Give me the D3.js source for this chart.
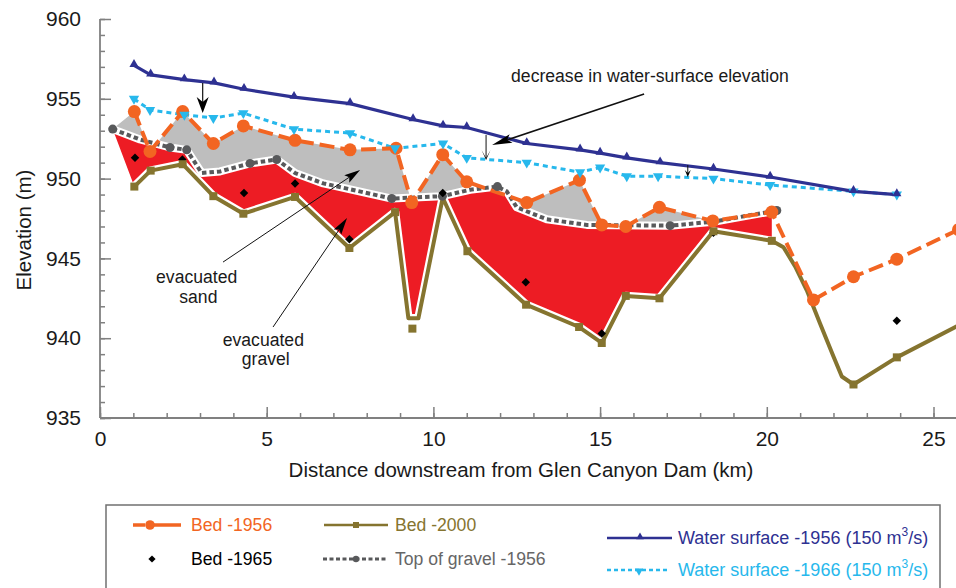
<!DOCTYPE html>
<html>
<head>
<meta charset="utf-8">
<script src="https://cdn.jsdelivr.net/npm/d3@7"></script>
<style>
  body { margin: 0; background: #fff; }
  svg { display: block; font-family: "Liberation Sans", Arial, Helvetica, sans-serif; }
</style>
</head>
<body>
<svg id="chart" width="956" height="588"></svg>
<script>
// ---- Longitudinal profile, Colorado River below Glen Canyon Dam ----
// distances in km downstream of the dam, elevations in m

// Water surface 1956 (150 m3/s)
const ws1956Km   = [1.02, 1.52, 2.53, 3.42, 4.32, 5.82, 7.5, 9.39, 10.29, 11.0, 12.8, 14.4, 15.0, 15.8, 16.8, 18.4, 20.1, 22.6, 23.9];
const ws1956Elev = [957.1, 956.5, 956.2, 956.0, 955.6, 955.1, 954.7, 953.7, 953.3, 953.2, 952.2, 951.8, 951.6, 951.3, 951.0, 950.6, 950.1, 949.2, 949.0];

// Water surface 1966 (150 m3/s)
const ws1966Km   = [1.02, 1.5, 2.53, 3.4, 4.3, 5.82, 7.5, 8.85, 10.29, 11.0, 12.8, 14.4, 15.0, 15.8, 16.74, 18.4, 20.1, 22.6, 23.9];
const ws1966Elev = [955.0, 954.3, 954.0, 953.8, 954.1, 953.1, 952.85, 951.9, 952.2, 951.3, 951.0, 950.4, 950.7, 950.15, 950.15, 950.0, 949.6, 949.2, 949.0];

// Bed 1956
const bed1956Km   = [1.03, 1.5, 2.48, 3.4, 4.3, 5.85, 7.5, 8.88, 9.35, 10.28, 11.0, 12.8, 14.38, 15.05, 15.77, 16.78, 18.38, 20.15, 21.4, 22.6, 23.9, 25.75];
const bed1956Elev = [954.2, 951.7, 954.2, 952.2, 953.3, 952.4, 951.8, 951.9, 948.5, 951.5, 949.8, 948.5, 949.9, 947.1, 947.0, 948.2, 947.35, 947.9, 942.4, 943.85, 944.95, 946.8];

// Bed 1965 survey points
const bed1965Km   = [1.05, 2.47, 4.32, 5.85, 7.48, 10.28, 12.77, 15.05, 18.4, 23.9];
const bed1965Elev = [951.3, 951.2, 949.1, 949.7, 946.2, 949.1, 943.5, 940.3, 946.6, 941.1];

// Bed 2000 profile line
const bed2000Km   = [1.03, 1.52, 2.48, 3.4, 4.3, 5.85, 7.48, 8.85, 9.25, 9.55, 10.28, 11.02, 12.78, 14.37, 15.05, 15.77, 16.78, 18.4, 20.15, 20.5, 20.85, 21.2, 21.6, 22.0, 22.25, 22.6, 23.9, 25.7];
const bed2000Elev = [949.5, 950.5, 950.9, 948.9, 947.8, 948.85, 945.65, 947.9, 941.25, 941.25, 948.8, 945.45, 942.1, 940.7, 939.7, 942.65, 942.5, 946.7, 946.1, 945.7, 944.5, 943.0, 940.9, 938.85, 937.6, 937.1, 938.8, 940.75];
// Bed 2000 survey points
const bed2000SurveyKm   = [1.03, 1.52, 2.48, 3.4, 4.3, 5.85, 7.48, 8.85, 9.37, 11.02, 12.78, 14.37, 15.05, 15.77, 16.78, 18.4, 20.15, 22.6, 23.9];
const bed2000SurveyElev = [949.5, 950.5, 950.9, 948.9, 947.8, 948.85, 945.65, 947.9, 940.6, 945.45, 942.1, 940.7, 939.7, 942.65, 942.5, 946.7, 946.1, 937.1, 938.8];

// Top of gravel 1956
const gravelKm   = [0.38, 1.2, 2.1, 2.6, 3.05, 3.6, 4.5, 5.3, 5.85, 6.7, 8.75, 10.27, 11.1, 11.92, 12.2, 12.5, 13.4, 14.6, 17.1, 18.4, 20.3];
const gravelElev = [953.1, 952.45, 951.95, 951.8, 950.35, 950.45, 950.95, 951.2, 950.35, 949.7, 948.75, 948.9, 949.3, 949.5, 949.2, 948.2, 947.45, 947.1, 947.05, 947.3, 948.0];
const gravelSurveyKm = [0.38, 2.1, 2.6, 4.5, 5.3, 8.75, 10.27, 11.92, 17.1, 20.3];

// downstream end of the 1956 / 2000 comparison reach
const reachEndKm = 20.15;

// axis ticks
const xMajorTicks = [0, 5, 10, 15, 20, 25];
const yMajorTicks = [935, 940, 945, 950, 955, 960];

// ---- colours ----
const C = {
  orange: "#F26522", olive: "#85742F", navy: "#2E3192", cyan: "#27B8EC",
  gravel: "#58595B", red: "#ED1C24", sand: "#BEBEBE", axis: "#808080"
};

const W = 956, H = 588;
const svg = d3.select("#chart");
const x = d3.scaleLinear().domain([0, 25]).range([100, 933.5]);
const y = d3.scaleLinear().domain([935, 960]).range([418, 19]);

const pts = (ks, es) => ks.map((k, i) => [k, es[i]]);
const line = d3.line().x(d => x(d[0])).y(d => y(d[1]));

const ws1956 = pts(ws1956Km, ws1956Elev);
const ws1966 = pts(ws1966Km, ws1966Elev);
const bed1956 = pts(bed1956Km, bed1956Elev);
const bed1965 = pts(bed1965Km, bed1965Elev);
const bed2000 = pts(bed2000Km, bed2000Elev);
const bed2000Survey = pts(bed2000SurveyKm, bed2000SurveyElev);
const gravel = pts(gravelKm, gravelElev);
const gravelMarks = gravel.filter(d => gravelSurveyKm.includes(d[0]));

// ---- clip regions ----
const defs = svg.append("defs");
const g0 = gravel[0], gN = gravel[gravel.length - 1];
defs.append("clipPath").attr("id", "aboveGravel").append("path")
  .attr("d", line(gravel) + `L${x(gN[0])},0L${x(g0[0])},0Z`);
defs.append("clipPath").attr("id", "belowGravel").append("path")
  .attr("d", line(gravel) + `L${x(gN[0])},${H}L${x(g0[0])},${H}Z`);
defs.append("clipPath").attr("id", "reachEnd").append("rect")
  .attr("x", 0).attr("y", 0).attr("width", x(reachEndKm)).attr("height", H);
defs.append("clipPath").attr("id", "plotArea").append("rect")
  .attr("x", x(0)).attr("y", 0).attr("width", W - x(0)).attr("height", y(935));

// ---- evacuated sand (grey) and evacuated gravel (red) ----
const sandPoly = bed1956.filter(d => d[0] <= reachEndKm).concat(gravel.slice().reverse());
svg.append("g").attr("clip-path", "url(#aboveGravel)")
  .append("path").attr("d", line(sandPoly) + "Z").attr("fill", C.sand);

const gravelPoly = gravel.concat(bed2000.filter(d => d[0] <= reachEndKm).reverse());
svg.append("g").attr("clip-path", "url(#belowGravel)")
  .append("g").attr("clip-path", "url(#reachEnd)")
  .append("path").attr("d", line(gravelPoly) + "Z").attr("fill", C.red);

const plot = svg.append("g").attr("clip-path", "url(#plotArea)");

// top of gravel: white halo then dashed line
plot.append("path").attr("d", line(gravel)).attr("fill", "none")
  .attr("stroke", "#fff").attr("stroke-width", 8).attr("stroke-linejoin", "round");
plot.append("path").attr("d", line(gravel)).attr("fill", "none")
  .attr("stroke", C.gravel).attr("stroke-width", 4).attr("stroke-dasharray", "4.5,3");

// bed 2000
plot.append("path").attr("d", line(bed2000)).attr("fill", "none")
  .attr("stroke", "#fff").attr("stroke-width", 8.5).attr("stroke-linejoin", "round");
plot.append("path").attr("d", line(bed2000)).attr("fill", "none")
  .attr("stroke", C.olive).attr("stroke-width", 4).attr("stroke-linejoin", "round");

// water surfaces
plot.append("path").attr("d", line(ws1966)).attr("fill", "none")
  .attr("stroke", C.cyan).attr("stroke-width", 3).attr("stroke-dasharray", "5,4");
plot.append("path").attr("d", line(ws1956)).attr("fill", "none")
  .attr("stroke", C.navy).attr("stroke-width", 3.2).attr("stroke-linejoin", "round");

// bed 1956
plot.append("path").attr("d", line(bed1956)).attr("fill", "none")
  .attr("stroke", C.orange).attr("stroke-width", 4).attr("stroke-dasharray", "15,6");

// ---- markers ----
const sym = (type, size) => d3.symbol().type(type).size(size)();
plot.selectAll(".gmark").data(gravelMarks).join("circle")
  .attr("cx", d => x(d[0])).attr("cy", d => y(d[1])).attr("r", 4.5).attr("fill", C.gravel);
// bed 1965: square turned 45 degrees
plot.selectAll(".diam").data(bed1965).join("path")
  .attr("d", sym(d3.symbolSquare, 36))
  .attr("transform", d => `translate(${x(d[0])},${y(d[1])}) rotate(45)`).attr("fill", "#000");
plot.selectAll(".sq").data(bed2000Survey).join("path")
  .attr("d", sym(d3.symbolSquare, 64))
  .attr("transform", d => `translate(${x(d[0])},${y(d[1])})`).attr("fill", C.olive);
plot.selectAll(".circ").data(bed1956).join("circle")
  .attr("cx", d => x(d[0])).attr("cy", d => y(d[1])).attr("r", 6.5).attr("fill", C.orange);
plot.selectAll(".tri66").data(ws1966).join("path")
  .attr("d", sym(d3.symbolTriangle, 46))
  .attr("transform", d => `translate(${x(d[0])},${y(d[1])}) rotate(180)`).attr("fill", C.cyan);
plot.selectAll(".tri56").data(ws1956).join("path")
  .attr("d", sym(d3.symbolTriangle, 36))
  .attr("transform", d => `translate(${x(d[0])},${y(d[1]) - 1})`).attr("fill", C.navy);

// ---- axes ----
const axisX = svg.append("g").attr("transform", `translate(0,${y(935)})`);
axisX.append("g").call(d3.axisBottom(x).tickValues(d3.range(0, 26, 1)).tickSize(-5).tickFormat(""));
axisX.append("g").call(d3.axisBottom(x).tickValues(xMajorTicks).tickSize(-11).tickPadding(13).tickFormat(d3.format("d")));
const axisY = svg.append("g").attr("transform", `translate(${x(0)},0)`);
axisY.append("g").call(d3.axisLeft(y).tickValues(d3.range(935, 961, 1)).tickSize(-5).tickFormat(""));
axisY.append("g").call(d3.axisLeft(y).tickValues(yMajorTicks).tickSize(-11).tickPadding(19).tickFormat(d3.format("d")));
svg.selectAll(".domain").remove();
svg.selectAll(".tick line").attr("stroke", C.axis).attr("stroke-width", 1.5);
svg.selectAll(".tick text").attr("font-size", 21).attr("fill", "#1a1a1a")
  .attr("font-family", "'Liberation Sans', Arial, sans-serif");
svg.append("line").attr("x1", x(0)).attr("x2", W).attr("y1", y(935)).attr("y2", y(935))
  .attr("stroke", C.axis).attr("stroke-width", 1.8);
svg.append("line").attr("x1", x(0)).attr("x2", x(0)).attr("y1", y(960)).attr("y2", y(935))
  .attr("stroke", C.axis).attr("stroke-width", 1.8);

svg.append("text").attr("x", 521).attr("y", 477).attr("text-anchor", "middle")
  .attr("font-size", 20.5).attr("fill", "#1a1a1a")
  .text("Distance downstream from Glen Canyon Dam (km)");
svg.append("text").attr("transform", "translate(31,230) rotate(-90)").attr("text-anchor", "middle")
  .attr("font-size", 20.5).attr("fill", "#1a1a1a").text("Elevation (m)");

// ---- annotations ----
const ann = svg.append("g");
function arrow(x1, y1, x2, y2, len, wid, notch, sw) {
  const a = Math.atan2(y2 - y1, x2 - x1), ux = Math.cos(a), uy = Math.sin(a);
  const px = -uy, py = ux;
  const bx = x2 - len * ux, by = y2 - len * uy;
  const nx = x2 - (len - notch) * ux, ny = y2 - (len - notch) * uy;
  ann.append("line").attr("x1", x1).attr("y1", y1).attr("x2", nx).attr("y2", ny)
    .attr("stroke", "#111").attr("stroke-width", sw);
  ann.append("path")
    .attr("d", `M${x2},${y2}L${bx + px * wid / 2},${by + py * wid / 2}L${nx},${ny}L${bx - px * wid / 2},${by - py * wid / 2}Z`)
    .attr("fill", "#000");
}
// drop of the water surface between 1956 and 1966
arrow(x(3.08), y(955.99), x(3.08), y(954.11), 16, 12, 5, 1.2);
arrow(x(11.58), y(952.73), x(11.58), y(951.17), 10, 9, 8, 1);
arrow(x(17.63), y(950.85), x(17.63), y(950.1), 7, 6, 3, 1);
arrow(x(16.32), y(955.3), x(11.76), y(952.11), 20, 9, 4, 1.5);
arrow(x(3.69), y(944.77), x(7.8), y(950.54), 16, 9, 3, 1);
arrow(x(5.19), y(940.7), x(7.41), y(947.53), 17, 9, 3, 1);

const annText = (t, kx, e, anchor) => ann.append("text").attr("x", x(kx)).attr("y", y(e))
  .attr("text-anchor", anchor).attr("font-size", 17.6).attr("fill", "#1a1a1a").text(t);
annText("decrease in water-surface elevation", 12.33, 956.05, "start");
annText("evacuated", 2.9, 943.46, "middle");
annText("sand", 2.95, 942.2, "middle");
annText("evacuated", 4.9, 939.5, "middle");
annText("gravel", 4.97, 938.3, "middle");

// ---- legend ----
const lg = svg.append("g");
lg.append("rect").attr("x", 106).attr("y", 505).attr("width", 834).attr("height", 120)
  .attr("fill", "#fff").attr("stroke", "#707070").attr("stroke-width", 1.5);
const lgText = (t, tx, ty, col) => lg.append("text").attr("x", tx).attr("y", ty)
  .attr("font-size", 17.6).attr("fill", col).text(t);

// Bed 1956
lg.append("line").attr("x1", 133).attr("x2", 181).attr("y1", 525).attr("y2", 525)
  .attr("stroke", C.orange).attr("stroke-width", 3.5).attr("stroke-dasharray", "12,5,40");
lg.append("circle").attr("cx", 150).attr("cy", 525).attr("r", 4.8).attr("fill", C.orange);
lgText("Bed -1956", 191, 531, C.orange);
// Bed 2000
lg.append("line").attr("x1", 324).attr("x2", 388).attr("y1", 525).attr("y2", 525)
  .attr("stroke", C.olive).attr("stroke-width", 2.5);
lg.append("path").attr("d", sym(d3.symbolSquare, 36)).attr("transform", "translate(356,525)").attr("fill", C.olive);
lgText("Bed -2000", 395, 531, C.olive);
// Bed 1965
lg.append("path").attr("d", sym(d3.symbolSquare, 26)).attr("transform", "translate(152,559) rotate(45)").attr("fill", "#000");
lgText("Bed -1965", 191, 565, "#000");
// Top of gravel
lg.append("line").attr("x1", 323).attr("x2", 387).attr("y1", 559).attr("y2", 559)
  .attr("stroke", C.gravel).attr("stroke-width", 3).attr("stroke-dasharray", "4,2.5");
lg.append("circle").attr("cx", 356).attr("cy", 559).attr("r", 3.2).attr("fill", C.gravel);
lgText("Top of gravel -1956", 395, 565, "#666");

// water surfaces
function wsLabel(year, ty, col) {
  const t = lg.append("text").attr("x", 678).attr("y", ty).attr("font-size", 18).attr("fill", col);
  t.append("tspan").text(`Water surface -${year} (150 m`);
  t.append("tspan").attr("font-size", 12).attr("dy", -8).text("3");
  t.append("tspan").attr("dy", 8).text("/s)");
}
lg.append("line").attr("x1", 607).attr("x2", 672).attr("y1", 538).attr("y2", 538)
  .attr("stroke", C.navy).attr("stroke-width", 2.5);
lg.append("path").attr("d", sym(d3.symbolTriangle, 26)).attr("transform", "translate(640,537)").attr("fill", C.navy);
wsLabel(1956, 544, C.navy);
lg.append("line").attr("x1", 607).attr("x2", 670).attr("y1", 570).attr("y2", 570)
  .attr("stroke", C.cyan).attr("stroke-width", 2.5).attr("stroke-dasharray", "4,3");
lg.append("path").attr("d", sym(d3.symbolTriangle, 30)).attr("transform", "translate(639,571) rotate(180)").attr("fill", C.cyan);
wsLabel(1966, 576, C.cyan);
</script>
</body>
</html>
